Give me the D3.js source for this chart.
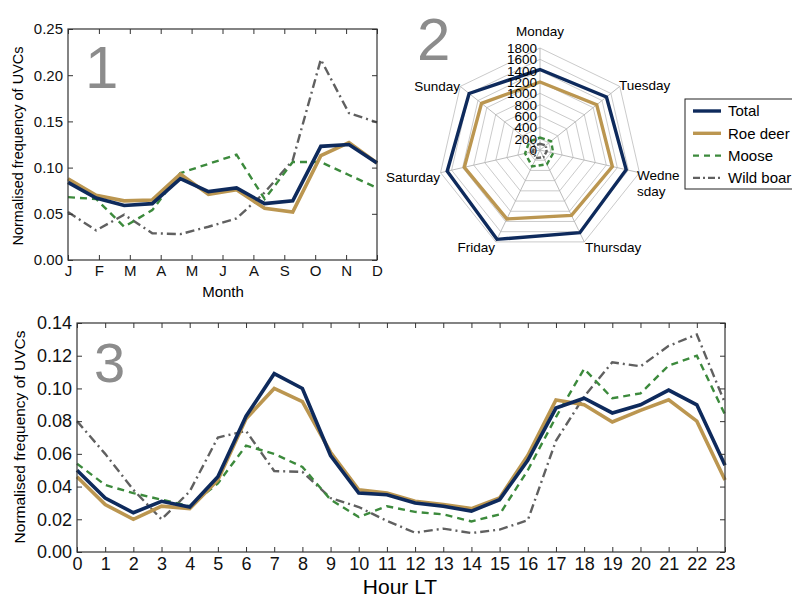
<!DOCTYPE html>
<html>
<head>
<meta charset="utf-8">
<script src="https://cdn.jsdelivr.net/npm/d3@7"></script>
<style>
  body { margin: 0; background: #fff; }
  svg { display: block; font-family: "Liberation Sans", Arial, sans-serif; }
  .tick text { fill: #111; }
</style>
</head>
<body>
<div id="fig"></div>
<script>
// ---- data ----
var monthLabels = ["J", "F", "M", "A", "M", "J", "A", "S", "O", "N", "D"];
var monthTotal = [0.084, 0.067, 0.059, 0.061, 0.088, 0.074, 0.078, 0.061, 0.064, 0.123, 0.125, 0.105];
var monthRoe   = [0.088, 0.070, 0.064, 0.065, 0.093, 0.071, 0.076, 0.056, 0.052, 0.113, 0.127, 0.105];
var monthMoose = [0.068, 0.066, 0.036, 0.054, 0.094, 0.104, 0.114, 0.066, 0.106, 0.106, 0.092, 0.078];
var monthBoar  = [0.052, 0.032, 0.049, 0.029, 0.028, 0.036, 0.045, 0.073, 0.108, 0.217, 0.159, 0.149];

var days = ["Monday", "Tuesday", "Wednesday", "Thursday", "Friday", "Saturday", "Sunday"];
var dayTotal = [1420, 1500, 1560, 1620, 1750, 1680, 1600];
var dayRoe   = [1200, 1280, 1310, 1280, 1350, 1370, 1320];
var dayMoose = [220, 250, 240, 280, 320, 270, 240];
var dayBoar  = [110, 130, 120, 140, 160, 130, 120];
var radialTicks = [0, 200, 400, 600, 800, 1000, 1200, 1400, 1600, 1800];

var hours = d3.range(24);
var hourTotal = [0.050, 0.033, 0.024, 0.031, 0.0275, 0.046, 0.083, 0.109, 0.100, 0.059, 0.036, 0.035,
                 0.030, 0.028, 0.025, 0.032, 0.056, 0.088, 0.094, 0.085, 0.090, 0.099, 0.090, 0.053];
var hourRoe   = [0.046, 0.029, 0.020, 0.028, 0.0265, 0.044, 0.0815, 0.100, 0.092, 0.061, 0.038, 0.036,
                 0.031, 0.029, 0.0265, 0.033, 0.059, 0.093, 0.090, 0.0795, 0.0866, 0.093, 0.080, 0.044];
var hourMoose = [0.054, 0.041, 0.036, 0.032, 0.028, 0.042, 0.065, 0.060, 0.052, 0.032, 0.0214, 0.028,
                 0.0245, 0.023, 0.0187, 0.023, 0.050, 0.0825, 0.112, 0.094, 0.097, 0.114, 0.120, 0.084];
var hourBoar  = [0.080, 0.060, 0.038, 0.020, 0.037, 0.070, 0.074, 0.0495, 0.049, 0.033, 0.0275, 0.019,
                 0.0118, 0.0143, 0.0116, 0.0137, 0.0194, 0.068, 0.095, 0.116, 0.1135, 0.126, 0.133, 0.091];

var seriesNames = ["Total", "Roe deer", "Moose", "Wild boar"];

// styles of the four series
var styles = [
  {color: "#0e2a5c", width: 3.6, dash: null},
  {color: "#bb9650", width: 3.6, dash: null},
  {color: "#3c8a3c", width: 2.4, dash: "7,5"},
  {color: "#606060", width: 2.4, dash: "9,4,2,4"}
];

var width = 792, height = 599;
var svg = d3.select("#fig").append("svg")
  .attr("width", width)
  .attr("height", height);

// draws the boxed axes with inward ticks on all sides
function frameAxes(g, x, y, xTicks, xFormat, yTicks, yFormat, fs) {
  var x0 = x.range()[0], x1 = x.range()[1];
  var y0 = y.range()[0], y1 = y.range()[1];

  g.append("g")
    .attr("transform", "translate(0," + y0 + ")")
    .call(d3.axisBottom(x).tickValues(xTicks).tickFormat(xFormat).tickSizeInner(-5).tickSizeOuter(0).tickPadding(5))
    .call(a => a.select(".domain").remove())
    .selectAll("text").style("font-size", fs + "px");
  g.append("g")
    .attr("transform", "translate(0," + y1 + ")")
    .call(d3.axisTop(x).tickValues(xTicks).tickFormat("").tickSizeInner(-5).tickSizeOuter(0))
    .call(a => a.select(".domain").remove());
  g.append("g")
    .attr("transform", "translate(" + x0 + ",0)")
    .call(d3.axisLeft(y).tickValues(yTicks).tickFormat(yFormat).tickSizeInner(-5).tickSizeOuter(0).tickPadding(5))
    .call(a => a.select(".domain").remove())
    .selectAll("text").style("font-size", fs + "px");
  g.append("g")
    .attr("transform", "translate(" + x1 + ",0)")
    .call(d3.axisRight(y).tickValues(yTicks).tickFormat("").tickSizeInner(-5).tickSizeOuter(0))
    .call(a => a.select(".domain").remove());

  g.selectAll(".tick line").attr("stroke", "#333");

  g.append("rect")
    .attr("x", x0).attr("y", y1)
    .attr("width", x1 - x0).attr("height", y0 - y1)
    .attr("fill", "none")
    .attr("stroke", "#333")
    .attr("stroke-width", 1.2);
}

function drawSeries(g, xs, x, y, list) {
  var line = d3.line()
    .x(function(d, i) { return x(xs[i]); })
    .y(function(d) { return y(d); });
  // wild boar and moose underneath, then roe deer, total on top
  [3, 2, 1, 0].forEach(function(k) {
    g.append("path")
      .datum(list[k])
      .attr("d", line)
      .attr("fill", "none")
      .attr("stroke", styles[k].color)
      .attr("stroke-width", styles[k].width)
      .attr("stroke-dasharray", styles[k].dash)
      .attr("stroke-linejoin", "miter");
  });
}

// ---- panel 1: month ----
var p1 = svg.append("g");
var x1 = d3.scaleLinear().domain([0, 11]).range([68, 377]);
var x1t = d3.scaleLinear().domain([0, monthLabels.length - 1]).range([68, 377]);
var y1 = d3.scaleLinear().domain([0, 0.25]).range([260, 29]);

drawSeries(p1, d3.range(12), x1, y1, [monthTotal, monthRoe, monthMoose, monthBoar]);
frameAxes(p1, x1t, y1, d3.range(monthLabels.length), function(i) { return monthLabels[i]; },
  [0, 0.05, 0.10, 0.15, 0.20, 0.25], d3.format(".2f"), 15);

p1.append("text")
  .attr("x", 223).attr("y", 297)
  .attr("text-anchor", "middle")
  .style("font-size", "15px")
  .text("Month");
p1.append("text")
  .attr("transform", "translate(23,146) rotate(-90)")
  .attr("text-anchor", "middle")
  .style("font-size", "14.5px")
  .text("Normalised frequency of UVCs");
p1.append("text")
  .attr("x", 85).attr("y", 88)
  .style("font-size", "60px")
  .attr("fill", "#8c8c8c")
  .text("1");

// ---- panel 2: weekday radar ----
var cx = 540, cy = 150;
var p2 = svg.append("g").attr("transform", "translate(" + cx + "," + cy + ")");
var r = d3.scaleLinear().domain([0, 1800]).range([0, 102]);
var step = 2 * Math.PI / days.length;

var radial = d3.lineRadial()
  .angle(function(d, i) { return i * step; })
  .radius(function(d) { return r(d); })
  .curve(d3.curveLinearClosed);

// grid rings and spokes
radialTicks.slice(1).forEach(function(t) {
  p2.append("path")
    .attr("d", radial(days.map(function() { return t; })))
    .attr("fill", "none")
    .attr("stroke", "#c4c4c4")
    .attr("stroke-width", 0.9);
});
days.forEach(function(d, i) {
  p2.append("line")
    .attr("x1", 0).attr("y1", 0)
    .attr("x2", r(1800) * Math.sin(i * step))
    .attr("y2", -r(1800) * Math.cos(i * step))
    .attr("stroke", "#b4b4b4")
    .attr("stroke-width", 0.9);
});

[dayBoar, dayMoose, dayRoe, dayTotal].forEach(function(vals, j) {
  var k = 3 - j;
  p2.append("path")
    .attr("d", radial(vals))
    .attr("fill", "none")
    .attr("stroke", styles[k].color)
    .attr("stroke-width", k < 2 ? 3.4 : 2.4)
    .attr("stroke-dasharray", k == 2 ? "5,3" : (k == 3 ? "5,2,1.5,2" : null));
});

radialTicks.forEach(function(t) {
  p2.append("text")
    .attr("x", -3)
    .attr("y", -r(t))
    .attr("dy", "0.36em")
    .attr("text-anchor", "end")
    .style("font-size", "13.5px")
    .text(t);
});

// weekday labels
var dayLabelPos = [
  {x: 0, y: -114, anchor: "middle", lines: ["Monday"]},
  {x: 79, y: -60, anchor: "start", lines: ["Tuesday"]},
  {x: 97, y: 30, anchor: "start", lines: ["Wedne", "sday"]},
  {x: 45, y: 102, anchor: "start", lines: ["Thursday"]},
  {x: -45, y: 102, anchor: "end", lines: ["Friday"]},
  {x: -100, y: 32, anchor: "end", lines: ["Saturday"]},
  {x: -80, y: -59, anchor: "end", lines: ["Sunday"]}
];
dayLabelPos.forEach(function(p) {
  var t = p2.append("text")
    .attr("x", p.x).attr("y", p.y)
    .attr("text-anchor", p.anchor)
    .style("font-size", "13.5px");
  p.lines.forEach(function(s, i) {
    t.append("tspan").attr("x", p.x).attr("dy", i == 0 ? 0 : "1.15em").text(s);
  });
});

svg.append("text")
  .attr("x", 417).attr("y", 60)
  .style("font-size", "60px")
  .attr("fill", "#8c8c8c")
  .text("2");

// legend
var lg = svg.append("g").attr("transform", "translate(685,99)");
lg.append("rect")
  .attr("width", 125).attr("height", 90)
  .attr("fill", "#fff")
  .attr("stroke", "#222")
  .attr("stroke-width", 1);
seriesNames.forEach(function(name, k) {
  var yy = 12 + k * 22.3;
  lg.append("line")
    .attr("x1", 8).attr("x2", 36)
    .attr("y1", yy).attr("y2", yy)
    .attr("stroke", styles[k].color)
    .attr("stroke-width", k < 2 ? 3.4 : 2.4)
    .attr("stroke-dasharray", k == 2 ? "6,5" : (k == 3 ? "7,3,2,3" : null));
  lg.append("text")
    .attr("x", 43).attr("y", yy)
    .attr("dy", "0.36em")
    .style("font-size", "15px")
    .text(name);
});

// ---- panel 3: hour ----
var p3 = svg.append("g");
var x3 = d3.scaleLinear().domain([0, 23]).range([77, 725]);
var y3 = d3.scaleLinear().domain([0, 0.14]).range([552, 323]);

drawSeries(p3, hours, x3, y3, [hourTotal, hourRoe, hourMoose, hourBoar]);
frameAxes(p3, x3, y3, hours, d3.format("d"),
  [0, 0.02, 0.04, 0.06, 0.08, 0.10, 0.12, 0.14], d3.format(".2f"), 18);

p3.append("text")
  .attr("x", 400).attr("y", 594)
  .attr("text-anchor", "middle")
  .style("font-size", "21px")
  .text("Hour LT");
p3.append("text")
  .attr("transform", "translate(25,437) rotate(-90)")
  .attr("text-anchor", "middle")
  .style("font-size", "15.5px")
  .text("Normalised frequency of UVCs");
p3.append("text")
  .attr("x", 94).attr("y", 382)
  .style("font-size", "56px")
  .attr("fill", "#8c8c8c")
  .text("3");
</script>
</body>
</html>
